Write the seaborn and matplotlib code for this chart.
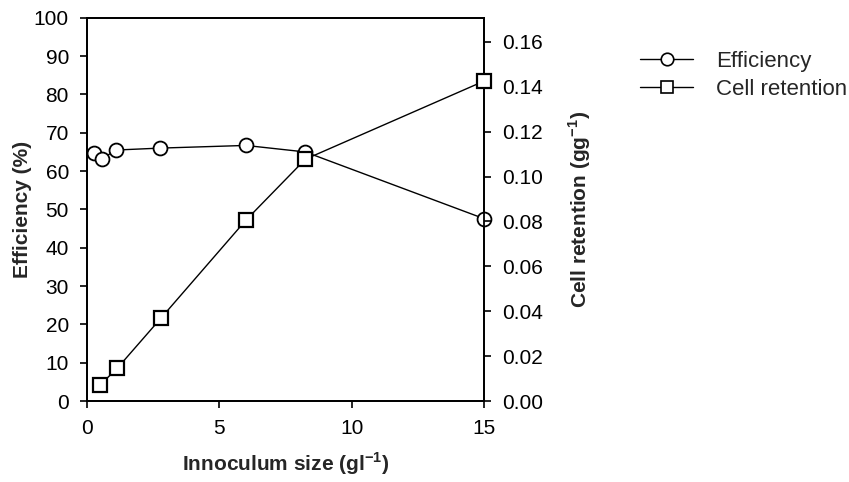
import matplotlib
matplotlib.use("Agg")
import matplotlib.pyplot as plt
import seaborn as sns
import pandas as pd
from matplotlib.lines import Line2D
from matplotlib.ticker import FormatStrFormatter

# ---- data ----
eff_x = [0.25, 0.55, 1.1, 2.75, 6.0, 8.25, 15.0]
eff_y = [64.8, 63.2, 65.5, 66.0, 66.7, 65.0, 47.6]
cell_x = [0.5, 1.15, 2.8, 6.0, 8.25, 15.0]
cell_y = [0.0072, 0.0147, 0.037, 0.0805, 0.1077, 0.1425]

x_ticks = [0, 5, 10, 15]
left_ticks = [0, 10, 20, 30, 40, 50, 60, 70, 80, 90, 100]
right_ticks = [0.00, 0.02, 0.04, 0.06, 0.08, 0.10, 0.12, 0.14, 0.16]

sns.set_style("ticks")
plt.rcParams['font.family'] = ['Liberation Sans', 'DejaVu Sans']
plt.rcParams['mathtext.fontset'] = 'custom'
plt.rcParams['mathtext.rm'] = 'Liberation Sans'
plt.rcParams['mathtext.bf'] = 'Liberation Sans:bold'

fig = plt.figure(figsize=(8.49, 4.82), dpi=100)
ax = fig.add_axes([0.1025, 0.168, 0.4675, 0.795])
ax2 = ax.twinx()

df_e = pd.DataFrame({"x": eff_x, "y": eff_y})
df_c = pd.DataFrame({"x": cell_x, "y": cell_y})

sns.lineplot(data=df_e, x="x", y="y", ax=ax, color="black", lw=1.0,
             marker="o", markersize=10, markerfacecolor="white",
             markeredgecolor="black", markeredgewidth=1.3, clip_on=False, zorder=5)
sns.lineplot(data=df_c, x="x", y="y", ax=ax2, color="black", lw=1.0,
             marker="s", markersize=10.5, markerfacecolor="white",
             markeredgecolor="black", markeredgewidth=1.6, clip_on=False, zorder=5)

ax.set_xlim(0, 15)
ax.set_ylim(0, 100)
ax2.set_ylim(0, 0.16 * 383 / 359)
ax.set_xticks(x_ticks)
ax.set_yticks(left_ticks)
ax2.set_yticks(right_ticks)
ax2.yaxis.set_major_formatter(FormatStrFormatter('%.2f'))

for a in (ax, ax2):
    for s in a.spines.values():
        s.set_linewidth(1.3)
        s.set_color("black")
        s.set_visible(True)
    a.tick_params(axis='both', direction='out', length=5, width=1.2,
                  labelsize=15, colors='black', pad=8)

ax.set_xlabel(r"Innoculum size (gl$^{\mathbf{-1}}$)", fontsize=15,
              fontweight='bold', labelpad=9)
ax.set_ylabel("Efficiency (%)", fontsize=15, fontweight='bold', labelpad=1)
ax2.set_ylabel(r"Cell retention (gg$^{\mathbf{-1}}$)", fontsize=15,
               fontweight='bold', labelpad=17)

handles = [
    Line2D([], [], color='black', lw=1.0, marker='o', markersize=9,
           markerfacecolor='white', markeredgecolor='black', markeredgewidth=1.2),
    Line2D([], [], color='black', lw=1.0, marker='s', markersize=9,
           markerfacecolor='white', markeredgecolor='black', markeredgewidth=1.2),
]
fig.legend(handles, ["Efficiency", "Cell retention"], loc='upper left',
           bbox_to_anchor=(0.754, 0.894), frameon=False, fontsize=16,
           handlelength=2.4, handletextpad=1.0, labelspacing=0.3,
           borderpad=0, borderaxespad=0)

fig.savefig("out.png", dpi=100, facecolor="white")
